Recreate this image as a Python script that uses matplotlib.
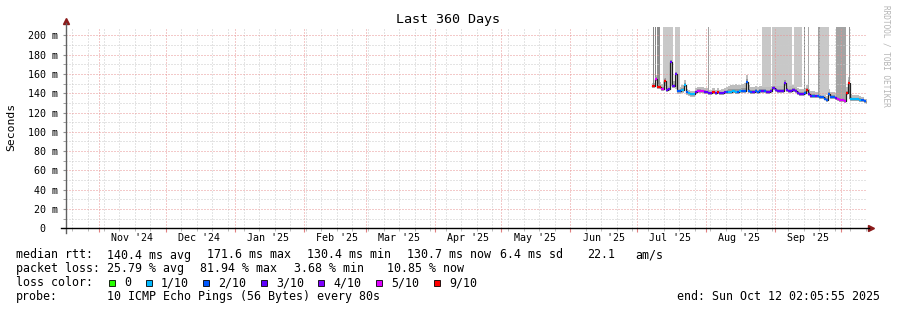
import numpy as np
import pandas as pd
import matplotlib
matplotlib.use("Agg")
import matplotlib.pyplot as plt
import matplotlib.dates as mdates
from matplotlib.ticker import MultipleLocator, NullFormatter
from matplotlib.patches import Rectangle

W, H = 897, 310
MONO = "DejaVu Sans Mono"

# graph window
t_start = pd.Timestamp("2024-10-17 02:05:55")
t_end = pd.Timestamp("2025-10-12 02:05:55")

# daily median rtt (ms), Jul 8 .. Oct 12 2025
days = pd.date_range("2025-07-08", "2025-10-12", freq="D")
median = [
    147, 155, 146, 146, 144.5, 153, 143.5, 144, 172, 147, 160, 142, 142.5, 143, 149, 141,
    140, 139.5, 139.5, 141, 142.5, 142.5, 142, 141.5,
    141, 140, 140.5, 141, 140, 141, 140, 140, 141, 141, 141.5, 141.5, 142, 141.5, 141.5, 142,
    142, 142.5, 152, 142, 141.5, 141.5, 142, 141.5, 142, 142, 142, 141.5, 141.5, 142, 145,
    143, 142.5, 142.5, 142.5, 151, 143, 142.5, 142.5, 143, 142.5, 140, 139, 139, 140, 143,
    139, 137, 137, 137, 137, 136.5, 136, 134.5, 133, 139, 136.5, 136, 135, 133.5, 133,
    132.5, 132, 140, 151, 134, 133.5, 133.5, 133.5, 133, 132.5, 131.5, 131,
]
# loss level index into loss_labels
loss = [
    6, 5, 6, 6, 5, 6, 3, 3, 3, 3, 3, 2, 2, 1, 1, 2, 1, 1, 1, 3, 5, 5, 5, 3,
    3, 3, 3, 6, 3, 6, 3, 3, 3, 2, 1, 1, 1, 1, 2, 1, 2, 2, 2, 2, 2, 3, 2, 2, 2, 3, 2, 3, 3, 3, 3,
    3, 3, 3, 3, 3, 3, 3, 3, 3, 3, 3, 3, 3, 2, 6,
    3, 3, 2, 3, 2, 2, 2, 2, 2, 2, 2, 2, 3, 5, 5,
    5, 5, 6, 6, 1, 1, 1, 1, 1, 2, 2, 2,
]
# smoke spread above / below the median (ms)
smoke_hi = [
    4, 4, 6, 6, 5, 6, 4, 4, 5, 6, 5, 4, 4, 5, 5, 3, 3, 3, 3, 4, 4, 4, 4, 4,
    4, 3, 3, 4, 3, 4, 3, 4, 4, 5, 6, 7, 7, 8, 7, 7, 8, 8, 7, 6, 5, 5, 5, 5, 5, 5, 5, 5, 5, 5, 6,
    6, 5, 5, 5, 6, 5, 5, 5, 6, 5, 5, 5, 5, 5, 6,
    5, 5, 5, 4, 4, 4, 4, 4, 4, 5, 5, 5, 5, 5, 5,
    5, 5, 6, 6, 5, 5, 5, 5, 4, 4, 3, 3,
]
smoke_lo = [
    2, 2, 2, 2, 2, 2, 2, 2, 2, 2, 2, 3, 3, 3, 3, 3, 3, 3, 3, 2, 2, 2, 2, 2,
    2, 2, 2, 2, 2, 2, 2, 2, 2, 2, 2, 2, 2, 2, 2, 2, 2, 2, 2, 2, 2, 2, 2, 2, 2, 2, 2, 2, 2, 2, 2,
    2, 2, 2, 2, 2, 2, 2, 2, 2, 2, 2, 2, 2, 2, 2,
    2, 2, 2, 2, 2, 2, 2, 2, 2, 2, 2, 2, 2, 2, 2,
    2, 2, 2, 2, 2, 2, 2, 2, 2, 2, 2, 2,
]

# periods where the smoke runs off the top of the graph
col_start = ["2025-07-08 07:00", "2025-07-08 22:00", "2025-07-09 21:00", "2025-07-12 14:00",
             "2025-07-18 02:00", "2025-08-02 00:00", "2025-08-26 07:00", "2025-08-30 19:00",
             "2025-09-09 16:00", "2025-09-14 04:00", "2025-09-16 01:00", "2025-09-20 12:00",
             "2025-09-21 10:00", "2025-09-28 12:00", "2025-10-04 09:00"]
col_end = ["2025-07-08 19:00", "2025-07-09 09:00", "2025-07-11 09:00", "2025-07-17 07:00",
           "2025-07-20 09:00", "2025-08-02 11:00", "2025-08-30 04:00", "2025-09-08 21:00",
           "2025-09-13 09:00", "2025-09-14 16:00", "2025-09-16 12:00", "2025-09-21 10:00",
           "2025-09-25 11:00", "2025-10-02 23:00", "2025-10-04 20:00"]
col_bottom = [146, 146, 146, 147, 144, 141, 146, 147, 146, 141, 139, 138, 138, 133, 134]
col_color = ["#858585", "#858585", "#8c8c8c", "#c8c8c8", "#c8c8c8", "#a0a0a0", "#c8c8c8",
             "#c8c8c8", "#c8c8c8", "#888888", "#a8a8a8", "#a0a0a0", "#c8c8c8", "#a4a4a4",
             "#909090"]

loss_labels = ["0", "1/10", "2/10", "3/10", "4/10", "5/10", "9/10"]
loss_colors = ["#26ff00", "#00b8ff", "#0059ff", "#5e00ff", "#7e00ff", "#dd00ff", "#ff0000"]

plt.rcParams["font.family"] = [MONO, "DejaVu Sans"]

fig = plt.figure(figsize=(W / 100, H / 100), dpi=100, facecolor="white")
ax = fig.add_axes([66 / W, (H - 228.3) / H, 800 / W, 201 / H])
ax.set_facecolor("white")

med = np.array(median, dtype=float)
day_num = mdates.date2num(days)
edges = np.append(day_num, day_num[-1] + 1)

# smoke: light outer band, darker core
lo = med - np.array(smoke_lo)
hi = med + np.array(smoke_hi)
ax.fill_between(edges, np.append(lo, lo[-1]), np.append(hi, hi[-1]), step="post",
                color="#bdbdbd", lw=0, zorder=1)
core_lo = med - 1
core_hi = med + np.array(smoke_hi) * 0.4
ax.fill_between(edges, np.append(core_lo, core_lo[-1]), np.append(core_hi, core_hi[-1]),
                step="post", color="#9a9a9a", lw=0, zorder=1.2)

# full-height smoke columns
cs = mdates.date2num(pd.to_datetime(col_start))
ce = mdates.date2num(pd.to_datetime(col_end))
ax.bar(cs, 210 - np.array(col_bottom), width=ce - cs, bottom=col_bottom, align="edge",
       color=col_color, lw=0, zorder=1)

# median: dark vertical joins, coloured by loss level
ax.step(edges, np.append(med, med[-1]), where="post", color="#202020", lw=0.9, zorder=3)
ax.hlines(med, day_num, day_num + 1, colors=[loss_colors[i] for i in loss], lw=1.6, zorder=4)

ax.set_xlim(t_start, t_end)
ax.set_ylim(0, 208.3)

# grid
grid_red = "#e89494"
grid_gray = "#cacaca"
ax.xaxis.set_major_locator(mdates.MonthLocator())
ax.xaxis.set_minor_locator(mdates.WeekdayLocator(byweekday=mdates.SU))
ax.xaxis.set_major_formatter(NullFormatter())
ax.yaxis.set_major_locator(MultipleLocator(20))
ax.yaxis.set_minor_locator(MultipleLocator(10))
ax.grid(which="minor", color=grid_gray, ls=(0, (1, 2)), lw=0.72, zorder=2.5)
ax.grid(which="major", color=grid_red, ls=(0, (1, 2)), lw=0.72, zorder=2.6)
ax.set_axisbelow(False)

ylabels = []
for v in range(0, 201, 20):
    ylabels.append("%d m" % v if v else "0\u00a0\u00a0")
ax.set_yticks(range(0, 201, 20))
ax.set_yticklabels(ylabels, fontsize=7.2, family=MONO)
ax.tick_params(axis="y", which="both", length=2, color="#909090", pad=4)
ax.tick_params(axis="x", which="major", length=3, color="#e08080")
ax.tick_params(axis="x", which="minor", length=2, color="#b0b0b0")

for s in ax.spines.values():
    s.set_visible(False)

# month labels centred on each month
sec = ax.secondary_xaxis("bottom")
sec.xaxis.set_major_locator(mdates.MonthLocator(bymonthday=16))
sec.xaxis.set_major_formatter(mdates.DateFormatter("%b '%y"))
sec.tick_params(length=0, pad=3.5, labelsize=7.2)
for lab in sec.get_xticklabels():
    lab.set_family(MONO)
sec.spines["bottom"].set_visible(False)

# axis lines with arrow heads
ax.plot([0, 0], [-0.025, 1.02], transform=ax.transAxes, color="#606060", lw=1,
        clip_on=False, zorder=5)
ax.plot([-0.006, 1.004], [0, 0], transform=ax.transAxes, color="black", lw=1,
        clip_on=False, zorder=5)
ax.plot([0], [1.03], marker="^", ms=4, color="#8b1a1a", transform=ax.transAxes, clip_on=False)
ax.plot([1.006], [0], marker=">", ms=4, color="#8b1a1a", transform=ax.transAxes, clip_on=False)


def fx(px):
    return px / W


def fy(py):
    return 1 - py / H


fig.text(fx(448), fy(19), "Last 360 Days", ha="center", va="center", fontsize=9.6, family=MONO)
fig.text(fx(11), fy(127), "Seconds", rotation=90, ha="center", va="center", fontsize=8.2,
         family=MONO)
fig.text(fx(886), fy(5), "RRDTOOL / TOBI OETIKER", rotation=-90, ha="center", va="top",
         fontsize=5.6, family=MONO, color="#b4b4b4")

fs = 8.4
rows = [
    (258.5, [(16, "median rtt:"), (107.3, "140.4 ms avg"), (207.3, "171.6 ms max"),
             (307.3, "130.4 ms min"), (407.3, "130.7 ms now"), (500, "6.4 ms sd"),
             (586.7, "22.1"), (635, "am/s")]),
    (272.3, [(16, "packet loss:"), (107.3, "25.79 % avg"), (200, "81.94 % max"),
             (294, "3.68 % min"), (386.7, "10.85 % now")]),
    (286, [(16, "loss color:")]),
    (299.8, [(16, "probe:"), (107.3, "10 ICMP Echo Pings (56 Bytes) every 80s")]),
]
for yb, items in rows:
    for x, s in items:
        fig.text(fx(x), fy(yb), s, ha="left", va="baseline", fontsize=fs, family=MONO)

sq_x = [109, 146, 203.3, 261, 318.3, 376, 434.3]
for x, lab, col in zip(sq_x, loss_labels, loss_colors):
    fig.patches.append(Rectangle((fx(x), fy(286)), 6 / W, 6.5 / H, transform=fig.transFigure,
                                 facecolor=col, edgecolor="black", lw=0.6))
    fig.text(fx(x + 15), fy(286), lab, ha="left", va="baseline", fontsize=fs, family=MONO)

fig.text(fx(880), fy(299.8), "end: Sun Oct 12 02:05:55 2025", ha="right", va="baseline",
         fontsize=fs, family=MONO)

fig.savefig("out.png", dpi=100, facecolor="white")
